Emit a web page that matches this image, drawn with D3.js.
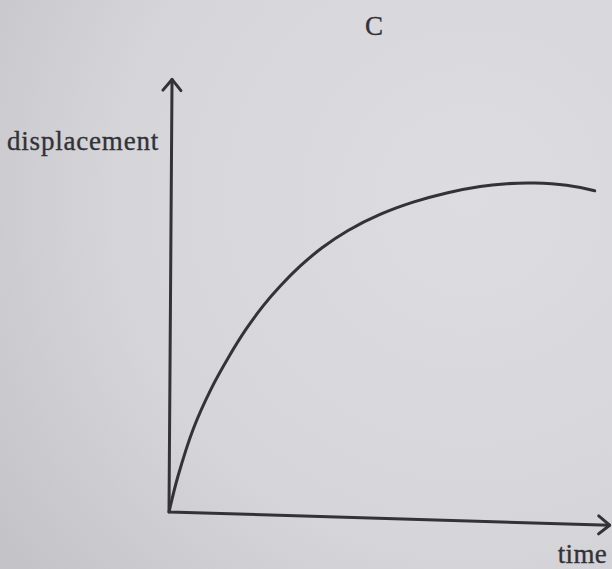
<!DOCTYPE html>
<html>
<head>
<meta charset="utf-8">
<script src="https://cdn.jsdelivr.net/npm/d3@7/dist/d3.min.js"></script>
<style>
  html, body { margin: 0; padding: 0; background: #d6d5d8; }
  svg { display: block; }
  text { font-family: "Liberation Serif", "Times New Roman", Times, "DejaVu Serif", serif; }
</style>
</head>
<body>
<script>
// Displacement–time sketch: rises quickly, levels off, then dips slightly.
const time = [0, 0.2, 0.55, 0.95, 1.35, 1.75, 2.15, 2.55, 3.0, 3.5, 4.1, 4.85, 5.6, 6.4, 7.15, 7.7, 8.4, 9.15, 9.8];
const displacement = [0, 0.85, 2.0, 2.95, 3.72, 4.40, 4.98, 5.47, 5.95, 6.40, 6.83, 7.24, 7.55, 7.80, 7.97, 8.05, 8.09, 8.06, 7.95];
const axisEnds = { time: 10.2, displacement: 10.3 };
const title = "C";
const xLabel = "time";
const yLabel = "displacement";

const W = 612, H = 569;
const ink = "#323238";

const svg = d3.select("body").append("svg")
  .attr("width", W).attr("height", H);

// paper tone, a little darker toward the lower left
const defs = svg.append("defs");
const grad = defs.append("radialGradient")
  .attr("id", "paper")
  .attr("gradientUnits", "userSpaceOnUse")
  .attr("cx", 470).attr("cy", 200).attr("r", 580);
grad.append("stop").attr("offset", "0%").attr("stop-color", "#dddce0");
grad.append("stop").attr("offset", "60%").attr("stop-color", "#d6d5d9");
grad.append("stop").attr("offset", "100%").attr("stop-color", "#c4c3c7");
svg.append("rect").attr("width", W).attr("height", H).attr("fill", "url(#paper)");

const x = d3.scaleLinear().domain([0, 10]).range([169, 601]);
const y = d3.scaleLinear().domain([0, 10]).range([512, 92]);

// the printed figure sits slightly skewed on the page
const g = svg.append("g")
  .attr("transform", `translate(169,512) matrix(1,0.03,-0.007,1,0,0) translate(-169,-512)`);

const ox = x(0), oy = y(0);
const yTop = y(axisEnds.displacement), xEnd = x(axisEnds.time);
const stroke = sel => sel.attr("fill", "none").attr("stroke", ink).attr("stroke-width", 3)
  .attr("stroke-linecap", "round").attr("stroke-linejoin", "round");

// axes drawn as plain arrows
g.append("path").attr("d", d3.line()([[ox, yTop], [ox, oy], [xEnd, oy]])).call(stroke);
g.append("path").attr("d", d3.line()([[ox - 9, yTop + 11], [ox, yTop], [ox + 9, yTop + 11]])).call(stroke);
g.append("path").attr("d", d3.line()([[xEnd - 11, oy - 9], [xEnd, oy], [xEnd - 11, oy + 9]])).call(stroke);

// the curve
const pts = time.map((t, i) => [t, displacement[i]]);
g.append("path")
  .datum(pts)
  .attr("d", d3.line().x(d => x(d[0])).y(d => y(d[1])).curve(d3.curveCatmullRom.alpha(0.5)))
  .call(stroke);

// text
const label = (tx, ty, anchor, spacing, str) => svg.append("text")
  .attr("x", tx).attr("y", ty)
  .attr("text-anchor", anchor)
  .attr("font-size", 27)
  .attr("letter-spacing", spacing)
  .attr("fill", ink)
  .attr("stroke", ink).attr("stroke-width", 0.35)
  .text(str);
label(374, 35, "middle", 0, title);
label(7, 150, "start", 0.8, yLabel);
label(607, 563, "end", 0.3, xLabel);
</script>
</body>
</html>
